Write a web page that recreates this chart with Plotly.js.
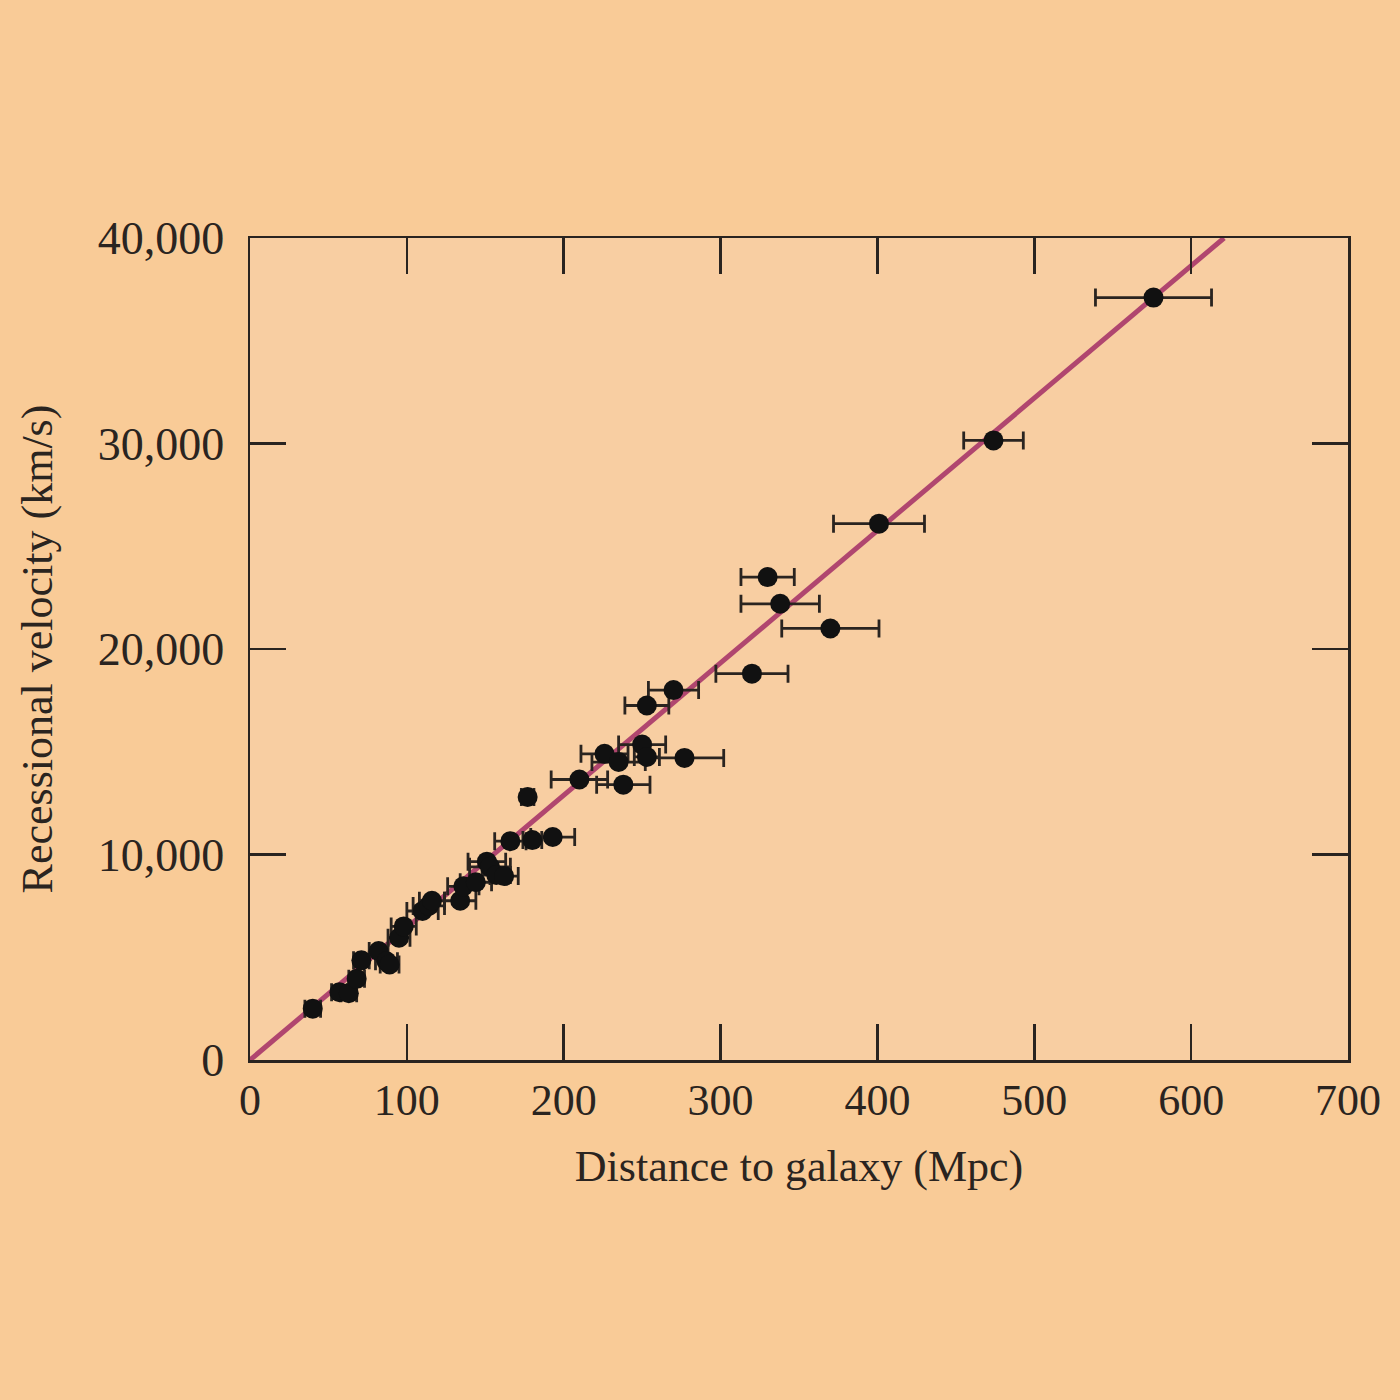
<!DOCTYPE html>
<html>
<head>
<meta charset="utf-8">
<script src="https://cdn.plot.ly/plotly-3.0.1.min.js"></script>
<style>html,body{margin:0;padding:0;background:#F9CB97;}</style>
</head>
<body>
<div id="chart" style="width:1400px;height:1400px;"></div>
<script>
// Distance to galaxy (Mpc)
const distance = [40, 57, 63, 68, 71, 82, 87, 89, 95, 98, 110, 114, 116, 134, 136, 144, 151, 153, 157, 162, 166, 180, 193, 177, 210, 238, 226, 235, 250, 253, 277, 253, 270, 320, 330, 338, 370, 401, 474, 576];
// Recessional velocity (km/s)
const velocity = [2500, 3300, 3250, 3950, 4850, 5300, 4800, 4650, 5950, 6500, 7250, 7500, 7750, 7750, 8450, 8650, 9650, 9400, 9000, 8950, 10650, 10700, 10850, 12800, 13650, 13400, 14900, 14500, 15350, 14750, 14700, 17250, 18000, 18800, 23500, 22200, 21000, 26100, 30150, 37100];
// Distance uncertainty (Mpc)
const distErr = [5, 5, 5, 5, 5, 6, 7, 6, 7, 8, 10, 10, 8, 10, 10, 10, 12, 13, 9, 9, 10, 6, 14, 4, 18, 17, 15, 17, 15, 8, 25, 14, 16, 23, 17, 25, 31, 29, 19, 37];
// Hubble law fit line
const fitX = [0, 621];
const fitY = [0, 40000];

const tickVals = [0, 100, 200, 300, 400, 500, 600, 700];
const yTickVals = [0, 10000, 20000, 30000, 40000];
const yTickText = ['0', '10,000', '20,000', '30,000', '40,000'];

const traces = [
  {
    x: fitX, y: fitY, mode: 'lines', type: 'scatter',
    line: {color: '#B0466F', width: 5},
    hoverinfo: 'skip', showlegend: false
  },
  {
    x: distance, y: velocity, mode: 'markers', type: 'scatter',
    marker: {color: '#111111', size: 20},
    error_x: {type: 'data', array: distErr, visible: true, color: '#2a2420', thickness: 2.8, width: 9},
    showlegend: false
  }
];

const fam = '"Liberation Serif", "DejaVu Serif", serif';
const ink = '#2a2420';

const layout = {
  width: 1400, height: 1400,
  paper_bgcolor: '#F9CB97',
  plot_bgcolor: '#F8CEA2',
  margin: {l: 250, r: 52, t: 238, b: 340},
  font: {family: fam, color: ink},
  xaxis: {
    range: [0, 700], tickvals: tickVals, ticktext: tickVals.map(String),
    ticks: 'inside', ticklen: 36, tickwidth: 2.5, tickcolor: ink,
    showline: true, linecolor: ink, linewidth: 2.5, mirror: 'ticks',
    showgrid: false, zeroline: false,
    ticklabelstandoff: 0,
    tickfont: {family: fam, size: 44, color: ink},
    title: {text: 'Distance to galaxy (Mpc)', font: {family: fam, size: 44, color: ink}, standoff: 26}
  },
  yaxis: {
    range: [0, 40000], tickvals: yTickVals, ticktext: yTickText,
    ticks: 'inside', ticklen: 36, tickwidth: 2.5, tickcolor: ink,
    showline: true, linecolor: ink, linewidth: 2.5, mirror: 'ticks',
    showgrid: false, zeroline: false,
    ticklabelstandoff: 14,
    tickfont: {family: fam, size: 46, color: ink},
    title: {text: 'Recessional velocity (km/s)', font: {family: fam, size: 44, color: ink}, standoff: 32}
  }
};

Plotly.newPlot('chart', traces, layout, {displayModeBar: false, staticPlot: true});
</script>
</body>
</html>
